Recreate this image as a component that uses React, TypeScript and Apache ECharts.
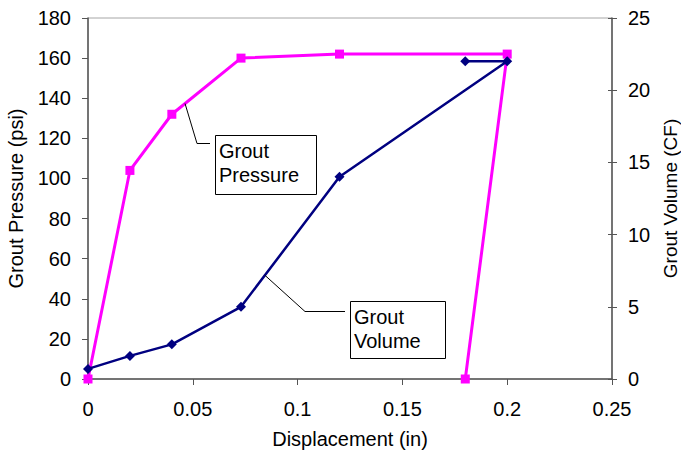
import React, { useEffect, useRef } from "react";
import * as echarts from "echarts";

const displacementPressure = [0, 0.02, 0.04, 0.073, 0.12, 0.2, 0.18];
const groutPressure = [0, 104, 132, 160, 162, 162, 0];
const displacementVolume = [0, 0.02, 0.04, 0.073, 0.12, 0.2, 0.18];
const groutVolume = [0.7, 1.6, 2.4, 5, 14, 22, 22];

const xTitle = "Displacement (in)";
const yLeftTitle = "Grout Pressure (psi)";
const yRightTitle = "Grout Volume (CF)";
const pressureLabel = "Grout\nPressure";
const volumeLabel = "Grout\nVolume";

const FONT = "'Liberation Sans', Arial, Helvetica, sans-serif";
const AXIS_COLOR = "#555555";
const FS = 20;

export default function App() {
  const ref = useRef<HTMLDivElement | null>(null);

  useEffect(() => {
    if (!ref.current) return;
    document.documentElement.style.overflow = "hidden";
    document.body.style.margin = "0";
    const chart = echarts.init(ref.current, undefined, { renderer: "svg", width: 681, height: 455 });

    const pData = displacementPressure.map((x, i) => [x, groutPressure[i]]);
    const vData = displacementVolume.map((x, i) => [x, groutVolume[i]]);

    const labelStyle = { fontSize: FS, color: "#000", fontFamily: FONT };

    chart.setOption({
      animation: false,
      backgroundColor: "#ffffff",
      grid: {
        left: 88,
        right: 69,
        top: 18,
        bottom: 76,
        show: true,
        borderColor: "#a6a6a6",
        borderWidth: 1,
        containLabel: false,
        outerBoundsMode: "none",
      },
      xAxis: {
        type: "value",
        min: 0,
        max: 0.25,
        interval: 0.05,
        name: xTitle,
        nameLocation: "middle",
        nameGap: 50,
        nameTextStyle: labelStyle,
        axisLine: { lineStyle: { color: AXIS_COLOR, width: 1.5 } },
        axisTick: { length: 6, lineStyle: { color: AXIS_COLOR } },
        axisLabel: { ...labelStyle, margin: 20, showMinLabel: true, showMaxLabel: true },
        splitLine: { show: false },
      },
      yAxis: [
        {
          type: "value",
          position: "left",
          min: 0,
          max: 180,
          interval: 20,
          name: yLeftTitle,
          nameLocation: "middle",
          nameGap: 62,
          nameRotate: 90,
          nameTextStyle: labelStyle,
          axisLine: { show: true, lineStyle: { color: AXIS_COLOR, width: 1.5 } },
          axisTick: { show: true, length: 6, lineStyle: { color: AXIS_COLOR } },
          axisLabel: { ...labelStyle, margin: 17 },
          splitLine: { show: false },
        },
        {
          type: "value",
          position: "right",
          offset: 0,
          min: 0,
          max: 25,
          interval: 5,
          name: yRightTitle,
          nameLocation: "middle",
          nameGap: 47,
          nameRotate: 90,
          nameTextStyle: { ...labelStyle, fontSize: 19 },
          axisLine: { show: true, lineStyle: { color: AXIS_COLOR, width: 1.5 } },
          axisTick: { show: true, length: 5, lineStyle: { color: AXIS_COLOR } },
          axisLabel: { ...labelStyle, margin: 16 },
          splitLine: { show: false },
        },
        {
          type: "value",
          position: "right",
          offset: 0,
          min: 0,
          max: 25,
          interval: 5,
          axisLine: { show: false },
          axisTick: { show: true, inside: true, length: 4, lineStyle: { color: AXIS_COLOR } },
          axisLabel: { show: false },
          splitLine: { show: false },
        },
      ],
      series: [
        {
          name: "Grout Pressure",
          type: "line",
          yAxisIndex: 0,
          data: pData,
          symbol: "rect",
          symbolSize: 9,
          lineStyle: { color: "#ff00ff", width: 3 },
          itemStyle: { color: "#ff00ff" },
          z: 2,
        },
        {
          name: "Grout Volume",
          type: "line",
          yAxisIndex: 1,
          data: vData,
          symbol: "diamond",
          symbolSize: 10,
          lineStyle: { color: "#000080", width: 2.5 },
          itemStyle: { color: "#000080" },
          z: 3,
        },
      ],
    });

    const pAnchorX = 0.0463;
    const pSegA = pData[2], pSegB = pData[3];
    const pAnchorY = pSegA[1] + ((pAnchorX - pSegA[0]) / (pSegB[0] - pSegA[0])) * (pSegB[1] - pSegA[1]);
    const pA = chart.convertToPixel({ xAxisIndex: 0, yAxisIndex: 0 }, [pAnchorX, pAnchorY]) as number[];

    const vAnchorX = 0.0844;
    const vSegA = vData[3], vSegB = vData[4];
    const vAnchorY = vSegA[1] + ((vAnchorX - vSegA[0]) / (vSegB[0] - vSegA[0])) * (vSegB[1] - vSegA[1]);
    const vA = chart.convertToPixel({ xAxisIndex: 0, yAxisIndex: 1 }, [vAnchorX, vAnchorY]) as number[];

    chart.setOption({
      graphic: [
        {
          type: "polyline",
          shape: { points: [[pA[0], pA[1]], [197, 143.5], [210, 143.5]] },
          style: { stroke: "#000", lineWidth: 1, fill: null },
          z: 10,
        },
        {
          type: "rect",
          shape: { x: 215.5, y: 135.5, width: 101, height: 59 },
          style: { stroke: "#000", lineWidth: 1, fill: "#fff" },
          z: 10,
        },
        {
          type: "text",
          x: 219,
          y: 139,
          style: { text: pressureLabel, fontSize: FS, lineHeight: 24, fontFamily: FONT, fill: "#000" },
          z: 11,
        },
        {
          type: "polyline",
          shape: { points: [[vA[0], vA[1]], [305, 311.5], [345, 311.5]] },
          style: { stroke: "#000", lineWidth: 1, fill: null },
          z: 10,
        },
        {
          type: "rect",
          shape: { x: 350.5, y: 301.5, width: 95, height: 57 },
          style: { stroke: "#000", lineWidth: 1, fill: "#fff" },
          z: 10,
        },
        {
          type: "text",
          x: 354,
          y: 305,
          style: { text: volumeLabel, fontSize: FS, lineHeight: 24, fontFamily: FONT, fill: "#000" },
          z: 11,
        },
      ],
    });

    return () => chart.dispose();
  }, []);

  return (
    <div
      ref={ref}
      style={{ position: "absolute", left: 0, top: 0, width: 681, height: 455, background: "#fff" }}
    />
  );
}
